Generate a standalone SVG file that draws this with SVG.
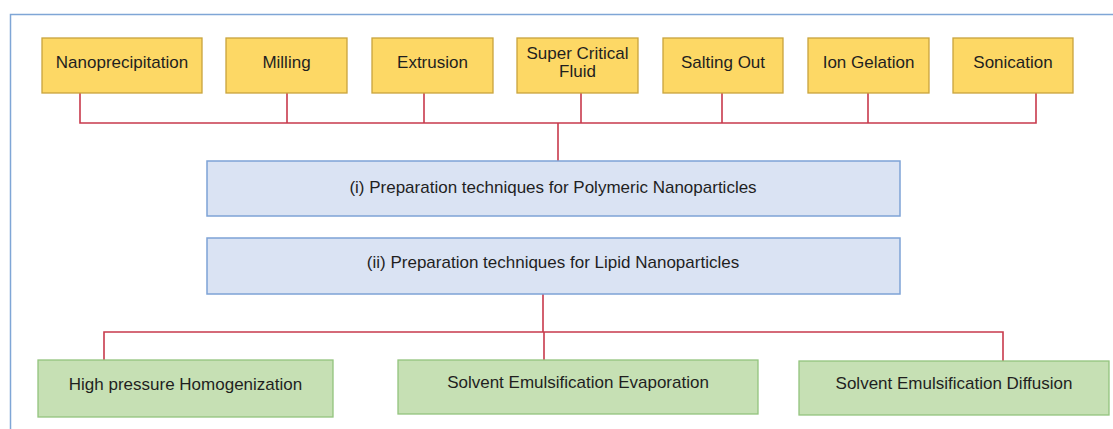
<svg xmlns="http://www.w3.org/2000/svg" width="1113" height="429" viewBox="0 0 1113 429">
<style>
text{font-family:"Liberation Sans",Arial,sans-serif;font-size:17px;fill:#1f1f1f;text-anchor:middle}
.y{fill:#fdd865;stroke:#c9a43c;stroke-width:1.3}
.b{fill:#dae3f3;stroke:#7ea3d6;stroke-width:1.5}
.g{fill:#c6e0b4;stroke:#93c47d;stroke-width:1.3}
.c{fill:none;stroke:#c83a4c;stroke-width:1.6}
</style>
<rect width="1113" height="429" fill="#fff"/>
<path d="M10.5,429 V14.5 H1113" fill="none" stroke="#7fa6d6" stroke-width="1.5"/>
<g id="connectors">
<path class="c" d="M80,93 V123 H1036 V93 M287,93 V123 M424,93 V123 M581,93 V123 M722,93 V123 M868,93 V123 M558,123 V161"/>
<path class="c" d="M543,294 V332 M104,360 V332 H1003 V361 M544,332 V360"/>
</g>
<g id="n-nano"><rect class="y" x="42" y="38" width="160" height="55"/><text x="122" y="68">Nanoprecipitation</text></g>
<g id="n-milling"><rect class="y" x="226" y="38" width="121" height="55"/><text x="286.5" y="68">Milling</text></g>
<g id="n-extrusion"><rect class="y" x="372" y="38" width="121" height="55"/><text x="432.5" y="68">Extrusion</text></g>
<g id="n-scf"><rect class="y" x="517" y="38" width="121" height="55"/><text x="577.5" y="59">Super Critical</text><text x="577.5" y="77">Fluid</text></g>
<g id="n-salting"><rect class="y" x="663" y="38" width="120" height="55"/><text x="723" y="68">Salting Out</text></g>
<g id="n-ion"><rect class="y" x="808" y="38" width="121" height="55"/><text x="868.5" y="68">Ion Gelation</text></g>
<g id="n-sonication"><rect class="y" x="953" y="38" width="120" height="55"/><text x="1013" y="68">Sonication</text></g>
<g id="n-polymeric"><rect class="b" x="207" y="161" width="693" height="55"/><text x="553" y="193">(i) Preparation techniques for Polymeric Nanoparticles</text></g>
<g id="n-lipid"><rect class="b" x="207" y="238" width="693" height="56"/><text x="553" y="268">(ii) Preparation techniques for Lipid Nanoparticles</text></g>
<g id="n-hph"><rect class="g" x="38" y="360" width="295" height="57"/><text x="185.5" y="390">High pressure Homogenization</text></g>
<g id="n-see"><rect class="g" x="398" y="360" width="360" height="54"/><text x="578" y="388">Solvent Emulsification Evaporation</text></g>
<g id="n-sed"><rect class="g" x="799" y="361" width="310" height="54"/><text x="954" y="389">Solvent Emulsification Diffusion</text></g>
</svg>
